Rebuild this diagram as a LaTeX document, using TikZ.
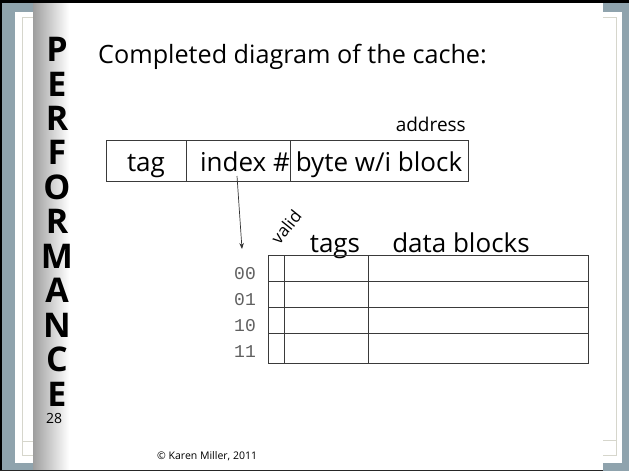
\documentclass[tikz,border=0pt]{standalone}
\usepackage{fontspec}
\setmainfont{Open Sans}
\newfontfamily\monofam{Liberation Mono}
\usetikzlibrary{arrows.meta}
\definecolor{framebg}{HTML}{8FA3AD}
\definecolor{pageline}{HTML}{D6D6CC}
\definecolor{idxgray}{HTML}{606060}
\definecolor{gridline}{HTML}{3A3A3A}
\newcommand{\fs}[1]{\fontsize{#1}{#1}\selectfont}

\tikzset{
  boxcell/.style={draw=gridline, line width=0.8pt, inner sep=0pt, anchor=north west},
  labeltext/.style={inner sep=0pt, anchor=base, font=\fs{26}},
  rowlabel/.style={inner sep=0pt, anchor=base east, text=idxgray, font=\monofam\fs{18}},
  sideletter/.style={inner sep=0pt, font=\bfseries\fs{34}},
}

\begin{document}
\begin{tikzpicture}[x=1pt, y=-1pt]
\useasboundingbox (0,0) rectangle (629,471);

% window background and the pages stacked behind the slide
\fill[framebg] (0,0) rectangle (629,471);
\fill[white] (15,12) rectangle (36,463);
\fill[white] (603,12) rectangle (622,463);
\draw[pageline, line width=0.8pt] (36,17) -- (22,17) -- (22,455) -- (36,455);
\draw[pageline, line width=0.8pt] (22,441) -- (36,441);
\draw[pageline, line width=0.8pt] (603,17) -- (616,17) -- (616,455) -- (603,455);
\draw[pageline, line width=0.8pt] (603,440) -- (616,440);

% the slide with its shaded binding strip
\fill[white] (33,2) rectangle (603,470);
\shade[left color={rgb,255:red,158;green,158;blue,158}, right color=white] (33,2) rectangle (69,470);

% dark window edges
\fill[black] (0,0) rectangle (629,2.5);
\fill[black] (0,0) rectangle (2,471);
\fill[black!85] (0,469.5) rectangle (603,471);

% vertical title letters
\foreach \ch [count=\i from 0] in {P,E,R,F,O,R,M,A,N,C,E}
  \node[sideletter] (side\i) at (57, 49.5+34.45*\i) {\ch};

% heading
\node[inner sep=0pt, anchor=base west, font=\fs{25.2}] (title) at (98,63) {Completed diagram of the cache:};

% address fields
\node[inner sep=0pt, anchor=base east, font=\fs{19}] (addrlbl) at (466,131) {address};
\node[boxcell, minimum width=80, minimum height=41] (tagcell) at (106,140) {};
\node[boxcell, minimum width=104, minimum height=41] (idxcell) at (186,140) {};
\node[boxcell, minimum width=178, minimum height=41] (bytecell) at (290,140) {};
\node[labeltext] (tagtxt) at (146,171) {tag};
\node[labeltext] (idxtxt) at (245,171) {index \#};
\node[labeltext] (bytetxt) at (379,171) {byte w/i block};

% index selects a row
\coordinate (idxfoot) at (237,176);
\coordinate (rowhead) at (242,249);
\draw[black!80, line width=0.7pt, -{Stealth[length=6pt, width=4.5pt]}] (idxfoot) -- (rowhead);

% cache column headings
\node[inner sep=0pt, rotate=51, font=\fs{17}] (validlbl) at (286,227) {valid};
\node[labeltext] (tagslbl) at (335,252) {tags};
\node[labeltext] (datalbl) at (461,252) {data blocks};

% cache rows
\foreach \r/\top/\h/\lbl in {0/255/26/00, 1/281/26/01, 2/307/26/10, 3/333/30/11} {
  \node[boxcell, minimum width=16, minimum height=\h] (valid\r) at (268,\top) {};
  \node[boxcell, minimum width=84, minimum height=\h] (tags\r) at (284,\top) {};
  \node[boxcell, minimum width=220, minimum height=\h] (data\r) at (368,\top) {};
  \node[rowlabel] (row\r) at (256,\top+24) {\lbl};
}

% footer
\node[inner sep=0pt, anchor=base west, font=\fs{14}] (pagenum) at (46,423) {28};
\node[inner sep=0pt, anchor=base west, font=\fs{10.5}] (credit) at (157,459) {© Karen Miller, 2011};
\end{tikzpicture}
\end{document}
